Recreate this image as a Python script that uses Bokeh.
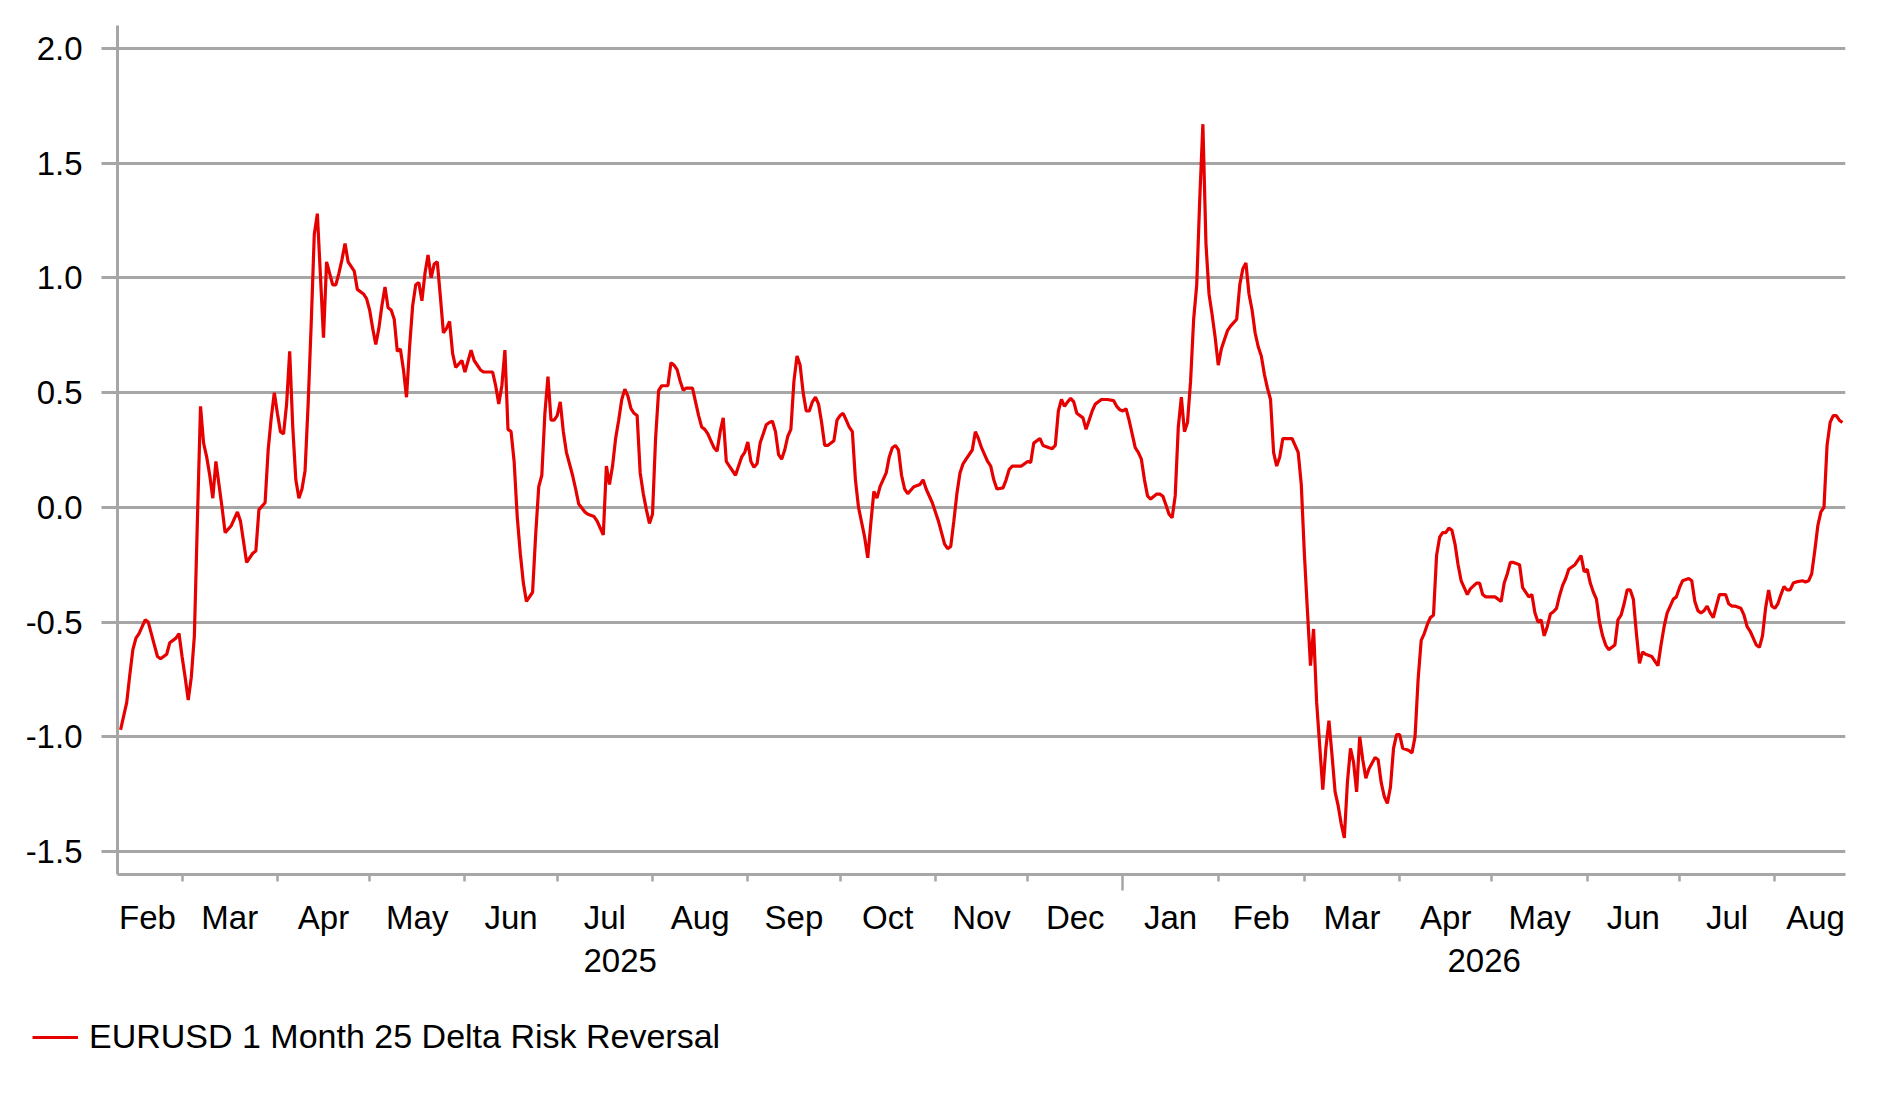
from datetime import date, datetime, timedelta

from bokeh.plotting import figure
from bokeh.models import (Range1d, FixedTicker, LinearAxis, PrintfTickFormatter,
                          Legend, LegendItem, ColumnDataSource)
from bokeh.embed import file_html
from bokeh.resources import INLINE

# ---------------- data ----------------
DATA_BASE_DATE = date(2025, 3, 4)     # day 0 of rr_days
SERIES_NAME = "EURUSD 1 Month 25 Delta Risk Reversal"

rr_days = [
    -23, -21, -20, -19, -18, -17, -15, -14, -13, -12,
    -11, -10, -8, -7, -5, -4, -3, -2, -1, 0,
    1, 2, 3, 4, 5, 6, 7, 8, 9, 10,
    11, 13, 15, 16, 17, 18, 20, 21, 22, 24,
    25, 26, 27, 28, 29, 30, 31, 32, 33, 34,
    35, 36, 37, 38, 39, 40, 41, 42, 43, 44,
    45, 46, 47, 48, 49, 50, 51, 53, 54, 56,
    57, 58, 59, 60, 61, 62, 63, 64, 65, 66,
    67, 68, 69, 70, 71, 72, 73, 74, 75, 76,
    77, 78, 79, 80, 81, 82, 83, 84, 85, 86,
    88, 89, 91, 92, 94, 95, 98,
    99, 100, 101, 102, 103, 104, 105, 106, 107, 108,
    109, 110, 111, 112, 113, 114, 115, 116, 117, 118,
    119, 120, 121, 122, 123, 124, 125, 126, 128, 129,
    131, 132, 133, 134, 135, 136, 137, 138, 139, 140,
    141, 142, 143, 144, 145, 146, 147, 148, 149, 150,
    151, 152, 153, 155, 156, 157, 158, 159, 160, 161,
    163, 164, 165, 166, 167, 168, 169, 170, 171, 172,
    173, 174, 175, 177, 178, 179, 180, 181, 182, 183,
    184, 185, 186, 187, 188, 189, 190, 191, 192, 193,
    194, 195, 196, 197, 198, 199, 200, 201, 202, 203,
    204, 205, 206, 207, 209, 210, 211, 212, 213, 214,
    215, 216, 217, 218, 219, 220, 221, 222, 223, 224,
    226, 227, 228, 229, 230, 231, 232, 233, 235, 237,
    238, 239, 241, 242, 243, 244, 245, 246, 247, 248,
    249, 250, 251, 252, 254, 255, 256, 257, 258, 259,
    260, 261, 262, 264, 265, 266, 267, 269, 270, 272,
    273, 274, 276, 277, 279, 280, 281, 282, 283, 284,
    285, 286, 287, 288, 290, 291, 292, 293, 294, 296,
    298, 300, 301, 302, 303, 304, 305, 306, 307, 308,
    309, 310, 311, 312, 314, 315, 316, 317, 318, 319,
    320, 321, 322, 323, 324, 325, 326, 327, 328, 329,
    330, 331, 332, 333, 334, 335, 336, 337, 338, 340,
    341, 342, 343, 344, 345, 346, 347, 348, 349, 350,
    351, 352, 353, 354, 355, 357, 358, 360, 361, 362,
    363, 364, 365, 366, 367, 368, 369, 370, 371, 372,
    373, 374, 375, 376, 377, 378, 379, 380, 381, 382,
    383, 385, 386, 387, 388, 389, 390, 391, 392, 393,
    394, 396, 397, 398, 399, 400, 401, 402, 403, 404,
    405, 406, 407, 408, 409, 410, 411, 412, 413, 414,
    415, 416, 418, 419, 420, 421, 423, 424, 426, 427,
    428, 429, 430, 432, 433, 435, 436, 437, 438, 439,
    440, 441, 442, 443, 444, 445, 446, 447, 448, 450,
    451, 452, 453, 454, 455, 456, 457, 458, 459, 460,
    461, 463, 464, 465, 466, 467, 468, 469, 470, 471,
    472, 473, 475, 476, 477, 478, 479, 480, 481, 482,
    483, 484, 485, 487, 488, 489, 490, 491, 492, 493,
    494, 495, 496, 497, 499, 500, 501, 502, 504, 505,
    506, 507, 508, 509, 510, 511, 512, 513, 514, 515,
    516, 517, 518, 519, 520, 521, 522, 524, 525, 526,
    527, 528, 529, 530, 531, 532, 533, 534, 535, 536,
    537,
]

rr_values = [
    -0.97, -0.85, -0.73, -0.62, -0.57, -0.55, -0.49, -0.50, -0.55, -0.60,
    -0.65, -0.66, -0.64, -0.59, -0.57, -0.55, -0.65, -0.74, -0.84, -0.74,
    -0.56, -0.05, 0.44, 0.28, 0.22, 0.14, 0.04, 0.20, 0.10, 0.00,
    -0.11, -0.08, -0.02, -0.06, -0.15, -0.24, -0.20, -0.19, -0.01, 0.02,
    0.25, 0.39, 0.50, 0.41, 0.33, 0.32, 0.45, 0.68, 0.35, 0.12,
    0.04, 0.08, 0.16, 0.45, 0.80, 1.19, 1.28, 1.01, 0.74, 1.07,
    1.02, 0.97, 0.97, 1.02, 1.08, 1.15, 1.07, 1.03, 0.95, 0.93,
    0.91, 0.86, 0.78, 0.71, 0.78, 0.88, 0.96, 0.87, 0.86, 0.82,
    0.68, 0.69, 0.60, 0.48, 0.70, 0.88, 0.97, 0.98, 0.90, 1.02,
    1.10, 1.00, 1.06, 1.07, 0.92, 0.76, 0.78, 0.81, 0.67, 0.61,
    0.64, 0.59, 0.685, 0.64, 0.60, 0.59, 0.59,
    0.53, 0.45, 0.53, 0.685, 0.34, 0.33, 0.20, -0.04, -0.20, -0.33,
    -0.41, -0.39, -0.37, -0.12, 0.09, 0.14, 0.41, 0.57, 0.38, 0.38,
    0.40, 0.46, 0.33, 0.24, 0.19, 0.14, 0.08, 0.015, -0.02, -0.03,
    -0.04, -0.06, -0.09, -0.12, 0.18, 0.10, 0.18, 0.30, 0.38, 0.47,
    0.515, 0.485, 0.43, 0.41, 0.40, 0.15, 0.06, -0.01, -0.07, -0.03,
    0.30, 0.51, 0.53, 0.53, 0.63, 0.62, 0.60, 0.55, 0.51, 0.52,
    0.52, 0.46, 0.40, 0.35, 0.34, 0.32, 0.29, 0.26, 0.245, 0.33,
    0.39, 0.20, 0.18, 0.14, 0.18, 0.22, 0.24, 0.285, 0.20, 0.175,
    0.19, 0.28, 0.32, 0.36, 0.37, 0.375, 0.33, 0.23, 0.21, 0.25,
    0.31, 0.34, 0.55, 0.66, 0.62, 0.50, 0.42, 0.42, 0.46, 0.48,
    0.45, 0.37, 0.27, 0.27, 0.29, 0.38, 0.40, 0.41, 0.38, 0.35,
    0.33, 0.12, 0.00, -0.065, -0.13, -0.22, -0.07, 0.07, 0.04, 0.09,
    0.15, 0.22, 0.26, 0.27, 0.25, 0.14, 0.08, 0.06, 0.09, 0.10,
    0.12, 0.08, 0.02, -0.02, -0.06, -0.11, -0.16, -0.18, -0.17, -0.06,
    0.06, 0.15, 0.19, 0.21, 0.25, 0.33, 0.30, 0.26, 0.23, 0.20,
    0.18, 0.12, 0.08, 0.085, 0.12, 0.165, 0.18, 0.18, 0.18, 0.20,
    0.196, 0.28, 0.30, 0.27, 0.26, 0.256, 0.27, 0.42, 0.47, 0.44,
    0.46, 0.475, 0.46, 0.41, 0.39, 0.34, 0.38, 0.42, 0.45, 0.47,
    0.47, 0.465, 0.44, 0.425, 0.42, 0.43, 0.38, 0.32, 0.26, 0.24,
    0.21, 0.12, 0.05, 0.036, 0.058, 0.058, 0.048, 0.01, -0.03, -0.045,
    0.05, 0.35, 0.48, 0.33, 0.37, 0.55, 0.82, 0.97, 1.35, 1.67,
    1.15, 0.93, 0.84, 0.74, 0.62, 0.69, 0.73, 0.77, 0.79, 0.82,
    0.97, 1.04, 1.065, 0.93, 0.86, 0.76, 0.70, 0.66, 0.58, 0.52,
    0.47, 0.24, 0.18, 0.22, 0.30, 0.30, 0.30, 0.24, 0.10, -0.20,
    -0.45, -0.69, -0.53, -0.85, -1.04, -1.23, -1.05, -0.93, -1.08, -1.24,
    -1.30, -1.38, -1.44, -1.20, -1.05, -1.11, -1.24, -1.00, -1.10, -1.18,
    -1.14, -1.09, -1.10, -1.20, -1.26, -1.29, -1.22, -1.05, -0.99, -0.99,
    -1.05, -1.06, -1.07, -1.00, -0.75, -0.58, -0.55, -0.51, -0.48, -0.47,
    -0.21, -0.13, -0.11, -0.11, -0.09, -0.10, -0.16, -0.25, -0.32, -0.35,
    -0.38, -0.355, -0.33, -0.33, -0.38, -0.39, -0.39, -0.39, -0.41, -0.33,
    -0.29, -0.24, -0.24, -0.25, -0.35, -0.39, -0.38, -0.46, -0.50, -0.49,
    -0.56, -0.52, -0.465, -0.455, -0.44, -0.385, -0.34, -0.31, -0.27, -0.25,
    -0.23, -0.21, -0.28, -0.27, -0.33, -0.37, -0.40, -0.50, -0.56, -0.60,
    -0.62, -0.60, -0.49, -0.47, -0.42, -0.36, -0.36, -0.40, -0.55, -0.68,
    -0.63, -0.64, -0.65, -0.67, -0.69, -0.60, -0.52, -0.46, -0.43, -0.40,
    -0.39, -0.35, -0.32, -0.31, -0.32, -0.41, -0.45, -0.46, -0.45, -0.43,
    -0.46, -0.48, -0.43, -0.38, -0.38, -0.42, -0.43, -0.43, -0.44, -0.47,
    -0.52, -0.54, -0.57, -0.60, -0.61, -0.56, -0.44, -0.36, -0.43, -0.44,
    -0.42, -0.38, -0.345, -0.36, -0.36, -0.33, -0.325, -0.32, -0.325, -0.32,
    -0.29, -0.19, -0.08, -0.02, 0.00, 0.27, 0.37, 0.40, 0.40, 0.38,
    0.37,
]
assert len(rr_days) == len(rr_values), (len(rr_days), len(rr_values))

y_ticks = [-1.5, -1.0, -0.5, 0.0, 0.5, 1.0, 1.5, 2.0]
x_window = (date(2025, 2, 8), date(2026, 8, 24))
y_window = (-1.60, 2.10)
month_names = ["Jan", "Feb", "Mar", "Apr", "May", "Jun",
               "Jul", "Aug", "Sep", "Oct", "Nov", "Dec"]

# ---------------- styling / layout ----------------
RED = "#e60000"
GREY = "#a6a6a6"
FONT = "Liberation Sans"
FS = "33px"
LEG_FS = "34px"
LINE_W = 3.2
BORDER_L, BORDER_R, BORDER_T, BORDER_B = 117, 20, 25, 130
FRAME_W, FRAME_H = 1728, 849
TOTAL_W = BORDER_L + FRAME_W + BORDER_R
LEGEND_H = 80
LABEL_HALF_PX = 30          # half width of a month label, keeps it inside the axis

EPOCH = datetime(1970, 1, 1)


def to_ms(d):
    return int((datetime(d.year, d.month, d.day) - EPOCH).total_seconds() * 1000)


x_dates = [DATA_BASE_DATE + timedelta(days=d) for d in rr_days]
src = ColumnDataSource(dict(x=[to_ms(d) for d in x_dates], y=rr_values))

x0, x1 = x_window
x0ms, x1ms = to_ms(x0), to_ms(x1)
ms_per_px = (x1ms - x0ms) / FRAME_W
half_ms = LABEL_HALF_PX * ms_per_px

# month spans
months = []
yy, mm = x0.year, x0.month
while True:
    start = date(yy, mm, 1)
    if start > x1:
        break
    nxt = date(yy + (1 if mm == 12 else 0), mm % 12 + 1, 1)
    months.append((start, nxt))
    yy, mm = nxt.year, nxt.month

month_mid = {}
month_bounds = []
year_bounds = []
for s, e in months:
    a, b = max(to_ms(s), x0ms), min(to_ms(e), x1ms)
    if b > a:
        c = (to_ms(s) + to_ms(e)) / 2
        c = min(max(c, x0ms + half_ms), x1ms - half_ms)
        month_mid[int(c)] = month_names[s.month - 1]
    if x0ms < to_ms(s) < x1ms:
        (year_bounds if s.month == 1 else month_bounds).append(to_ms(s))

year_mid = {}
for yr in range(x0.year, x1.year + 1):
    a = max(to_ms(date(yr, 1, 1)), x0ms)
    b = min(to_ms(date(yr + 1, 1, 1)), x1ms)
    if b > a:
        year_mid[int((a + b) // 2)] = str(yr)

# ---------------- main figure ----------------
p = figure(x_axis_type="datetime",
           x_range=Range1d(x0ms, x1ms), y_range=Range1d(*y_window),
           frame_width=FRAME_W, frame_height=FRAME_H,
           min_border_left=BORDER_L, min_border_right=BORDER_R,
           min_border_top=BORDER_T, min_border_bottom=BORDER_B,
           output_backend="svg", toolbar_location=None,
           background_fill_color="white", border_fill_color="white")
p.outline_line_color = None

p.xgrid.visible = False
p.ygrid.ticker = FixedTicker(ticks=y_ticks)
p.ygrid.grid_line_color = GREY
p.ygrid.grid_line_width = 3

# y axis
ya = p.yaxis[0]
ya.ticker = FixedTicker(ticks=y_ticks)
ya.formatter = PrintfTickFormatter(format="%.1f")
ya.major_tick_out = 16
ya.major_tick_in = 0
ya.minor_tick_line_color = None
ya.major_tick_line_color = GREY
ya.major_tick_line_width = 3
ya.axis_line_color = GREY
ya.axis_line_width = 3
ya.major_label_standoff = 19
ya.major_label_text_font = FONT
ya.major_label_text_font_size = FS
ya.major_label_text_color = "black"

# x axis 1: axis line, month ticks and the longer year tick
xa = p.xaxis[0]
xa.ticker = FixedTicker(ticks=year_bounds, minor_ticks=month_bounds)
xa.major_label_overrides = {t: "" for t in year_bounds}
xa.major_label_text_font_size = "1px"
xa.major_label_standoff = 0
xa.major_tick_out = 16
xa.major_tick_in = 0
xa.minor_tick_out = 7
xa.minor_tick_in = 0
xa.major_tick_line_color = GREY
xa.minor_tick_line_color = GREY
xa.major_tick_line_width = 2.5
xa.minor_tick_line_width = 2.5
xa.axis_line_color = GREY
xa.axis_line_width = 3


def label_axis(ticks_map, standoff):
    ax = LinearAxis(ticker=FixedTicker(ticks=list(ticks_map.keys())),
                    major_label_overrides=ticks_map)
    ax.axis_line_color = None
    ax.major_tick_line_color = None
    ax.minor_tick_line_color = None
    ax.major_tick_in = 0
    ax.major_tick_out = 0
    ax.minor_tick_in = 0
    ax.minor_tick_out = 0
    ax.major_label_standoff = standoff
    ax.major_label_text_font = FONT
    ax.major_label_text_font_size = FS
    ax.major_label_text_color = "black"
    return ax


p.add_layout(label_axis(month_mid, 8), "below")
p.add_layout(label_axis(year_mid, 10), "below")

p.line("x", "y", source=src, line_color=RED, line_width=LINE_W)

# ---------------- legend strip under the chart (separate root) ----------------
lf = figure(width=TOTAL_W, height=LEGEND_H,
            x_range=Range1d(0, 1), y_range=Range1d(0, 1),
            x_axis_location=None, y_axis_location=None,
            min_border=0, output_backend="svg", toolbar_location=None,
            background_fill_color="white", border_fill_color="white")
lf.outline_line_color = None
lf.grid.visible = False
# same series, same style; lies outside this strip's ranges, only its legend key shows
key = lf.line("x", "y", source=src, line_color=RED, line_width=LINE_W)

leg = Legend(items=[LegendItem(label=SERIES_NAME, renderers=[key])],
             location=(32, 28), orientation="horizontal",
             padding=0, margin=0, spacing=0,
             glyph_width=46, glyph_height=20, label_standoff=11,
             label_text_font=FONT, label_text_font_size=LEG_FS,
             label_text_color="black",
             border_line_color=None, background_fill_alpha=0)
lf.add_layout(leg)

open("out.html", "w").write(file_html([p, lf], INLINE))
